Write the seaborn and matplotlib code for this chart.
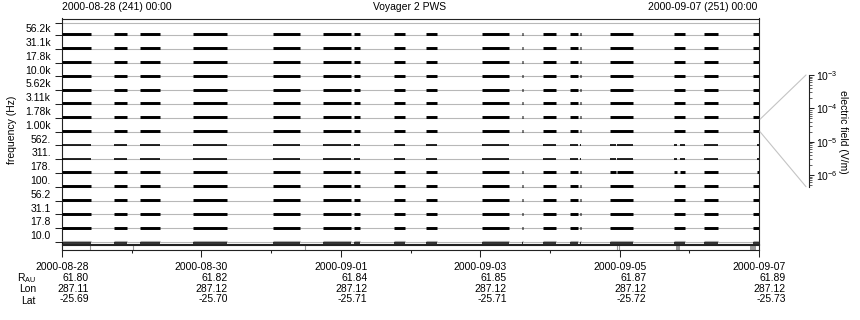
import numpy as np
import pandas as pd
import matplotlib
matplotlib.use("Agg")
import matplotlib.pyplot as plt
import seaborn as sns
from matplotlib.lines import Line2D
from matplotlib.ticker import LogLocator, LogFormatterMathtext, NullFormatter

# ---------------- data ----------------
freq_labels = ["56.2k", "31.1k", "17.8k", "10.0k", "5.62k", "3.11k", "1.78k", "1.00k",
               "562.", "311.", "178.", "100.", "56.2", "31.1", "17.8", "10.0"]

# observation intervals (days since 2000-08-28 00:00) - standard channels
std_start = [0.000, 0.746, 1.119, 1.879, 3.027, 3.745, 4.168, 4.189, 4.763, 5.222,
             6.026, 6.600, 6.901, 7.284, 7.432, 7.862, 8.780, 9.211, 9.914]
std_end = [0.416, 0.933, 1.406, 2.367, 3.415, 4.146, 4.175, 4.275, 4.921, 5.380,
           6.413, 6.614, 7.088, 7.403, 7.446, 8.192, 8.938, 9.412, 10.000]
# channels 562 / 311 Hz (thin, with small gaps)
thin_start = [0.000, 0.746, 1.119, 1.879, 3.027, 3.745, 4.168, 4.189, 4.763, 5.222,
              6.026, 6.901, 7.284, 7.432, 7.862, 7.963, 8.780, 8.866, 9.211, 9.971]
thin_end = [0.416, 0.933, 1.406, 2.367, 3.415, 4.146, 4.175, 4.275, 4.921, 5.380,
            6.413, 7.088, 7.403, 7.446, 7.948, 8.192, 8.823, 8.938, 9.412, 10.000]
# channel 178 Hz
mid_start = [0.000, 0.746, 1.119, 1.879, 3.027, 3.745, 4.168, 4.189, 4.763, 5.222,
             6.026, 6.600, 6.901, 7.284, 7.432, 7.862, 7.963, 8.780, 8.866, 9.211, 9.971]
mid_end = [0.416, 0.933, 1.406, 2.367, 3.415, 4.146, 4.175, 4.275, 4.921, 5.380,
           6.413, 6.614, 7.088, 7.403, 7.446, 7.948, 8.192, 8.823, 8.938, 9.412, 10.000]
thin_rows = [8, 9]
mid_rows = [10]
bottom_row = 15

# status strip marks
strip_lines = [0.402, 1.019, 3.486, 7.963, 7.991]
strip_block_start = [8.809, 9.871]
strip_block_end = [8.866, 9.957]

# x tick labels
tick_days = [0, 2, 4, 6, 8, 10]
dates = ["2000-08-28", "2000-08-30", "2000-09-01", "2000-09-03", "2000-09-05", "2000-09-07"]
r_au = ["61.80", "61.82", "61.84", "61.85", "61.87", "61.89"]
lon = ["287.11", "287.12", "287.12", "287.12", "287.12", "287.12"]
lat = ["-25.69", "-25.70", "-25.71", "-25.71", "-25.72", "-25.73"]

# ---------------- build long table ----------------
rows = []
seg_id = 0
for ch in range(len(freq_labels)):
    if ch in thin_rows:
        s, e, kinds = thin_start, thin_end, [("thin", -0.03)]
    elif ch in mid_rows:
        s, e, kinds = mid_start, mid_end, [("norm", -0.05)]
    elif ch == bottom_row:
        s, e, kinds = std_start, std_end, [("bot", 0.05), ("botg", -0.06)]
    else:
        s, e, kinds = std_start, std_end, [("norm", -0.05)]
    for a, b in zip(s, e):
        for kind, off in kinds:
            rows.append(dict(t=a, y=ch + off, seg=seg_id, kind=kind))
            rows.append(dict(t=b, y=ch + off, seg=seg_id, kind=kind))
            seg_id += 1
df = pd.DataFrame(rows)

# ---------------- style ----------------
sns.set_style("white")
plt.rcParams["font.family"] = ["Liberation Sans", "DejaVu Sans"]
plt.rcParams["mathtext.fontset"] = "custom"
plt.rcParams["mathtext.rm"] = "Liberation Sans"
plt.rcParams["mathtext.it"] = "Liberation Sans:italic"
plt.rcParams["mathtext.bf"] = "Liberation Sans:bold"
plt.rcParams["text.color"] = "black"
plt.rcParams["xtick.color"] = "black"
plt.rcParams["ytick.color"] = "black"
plt.rcParams["axes.labelcolor"] = "black"
FS = 7.5
DARK = "#222222"

W, H = 860, 320
fig = plt.figure(figsize=(W / 100, H / 100), dpi=100)

def fx(px):
    return px / W

def fy(py):
    return 1 - py / H

ax = fig.add_axes([fx(62), fy(244), fx(697), 225.5 / H])
sns.lineplot(data=df, x="t", y="y", units="seg", estimator=None, sort=False,
             hue="kind", palette={"norm": "black", "thin": "black", "bot": "black", "botg": "#a8a8a8"},
             size="kind", sizes={"norm": 2.1, "thin": 1.2, "bot": 1.1, "botg": 0.8},
             legend=False, ax=ax, solid_capstyle="butt", zorder=3)
ax.set_xlim(0, 10)
ax.set_ylim(15.14, -1.196)
ax.set_xlabel("")
ax.set_ylabel("")
ax.set_xticks([])
major_y = [-0.906] + list(range(len(freq_labels)))
ax.set_yticks(major_y)
ax.set_yticklabels([])
ax.set_yticks([i - 0.5 for i in range(len(freq_labels))], minor=True)
ax.set_yticklabels(freq_labels, minor=True, fontsize=FS)
ax.tick_params(axis="y", which="major", length=5, width=0.75, color=DARK, direction="out", left=True)
ax.tick_params(axis="y", which="minor", length=0, pad=8, labelcolor="black", left=True)
ax.grid(True, axis="y", which="major", color="#b8b8b8", linewidth=0.8)
ax.set_axisbelow(True)
for sp in ax.spines.values():
    sp.set_color(DARK)
    sp.set_linewidth(0.8)

# status strip with time axis
axs = fig.add_axes([fx(62), fy(249.5), fx(697), 4.5 / H])
axs.set_xlim(0, 10)
axs.set_ylim(0, 1)
axs.set_yticks([])
axs.vlines(strip_lines, 0, 1, color="#999999", linewidth=0.8)
for a, b in zip(strip_block_start, strip_block_end):
    axs.axvspan(a, b, color="#999999", lw=0)
for sp in axs.spines.values():
    sp.set_color(DARK)
    sp.set_linewidth(0.8)
axs.set_xticks(tick_days)
axs.set_xticks(range(1, 10, 2), minor=True)
labels = [f"{d}\n{r}\n{lo}\n{la}" for d, r, lo, la in zip(dates, r_au, lon, lat)]
axs.set_xticklabels(labels, fontsize=FS, multialignment="right", linespacing=1.07)
axs.tick_params(axis="x", which="major", length=4.8, width=0.75, color=DARK, pad=4.5, bottom=True)
axs.tick_params(axis="x", which="minor", length=2.2, width=0.75, color=DARK, bottom=True)

# row labels for the ephemeris
fig.text(fx(36), fy(278.5), r"R$_{\rm AU}$", ha="right", va="center", fontsize=FS)
fig.text(fx(36), fy(289.5), "Lon", ha="right", va="center", fontsize=FS)
fig.text(fx(36), fy(301), "Lat", ha="right", va="center", fontsize=FS)

# titles
fig.text(fx(62), fy(7), "2000-08-28 (241) 00:00", ha="left", va="center", fontsize=FS)
fig.text(fx(410), fy(7), "Voyager 2 PWS", ha="center", va="center", fontsize=FS)
fig.text(fx(757), fy(7), "2000-09-07 (251) 00:00", ha="right", va="center", fontsize=FS)
fig.text(fx(12), fy(130), "frequency (Hz)", rotation=90, ha="center", va="center", fontsize=FS)

# electric field scale
axc = fig.add_axes([fx(802.5), fy(186.7), fx(6), 111.7 / H])
axc.set_yscale("log")
axc.set_ylim(10 ** -6.35, 1e-3)
axc.set_xticks([])
for k in ["left", "top", "bottom"]:
    axc.spines[k].set_visible(False)
axc.spines["right"].set_color(DARK)
axc.spines["right"].set_linewidth(0.8)
axc.patch.set_alpha(0)
axc.yaxis.tick_right()
axc.yaxis.set_major_locator(LogLocator(base=10, numticks=10))
axc.yaxis.set_major_formatter(LogFormatterMathtext())
axc.yaxis.set_minor_locator(LogLocator(base=10, subs=np.arange(2, 10), numticks=20))
axc.yaxis.set_minor_formatter(NullFormatter())
axc.tick_params(axis="y", which="major", length=3.5, width=0.75, color=DARK, labelsize=FS, pad=2)
axc.tick_params(axis="y", which="minor", length=2, width=0.5, color=DARK)
fig.text(fx(843), fy(132), "electric field (V/m)", rotation=270, ha="center", va="center", fontsize=FS)

fig.add_artist(Line2D([fx(760), fx(806)], [fy(119.3), fy(75)], transform=fig.transFigure,
                      color="#c4c4c4", linewidth=0.8))
fig.add_artist(Line2D([fx(760), fx(806)], [fy(131.7), fy(186.7)], transform=fig.transFigure,
                      color="#c4c4c4", linewidth=0.8))

fig.savefig("out.png", dpi=100)
